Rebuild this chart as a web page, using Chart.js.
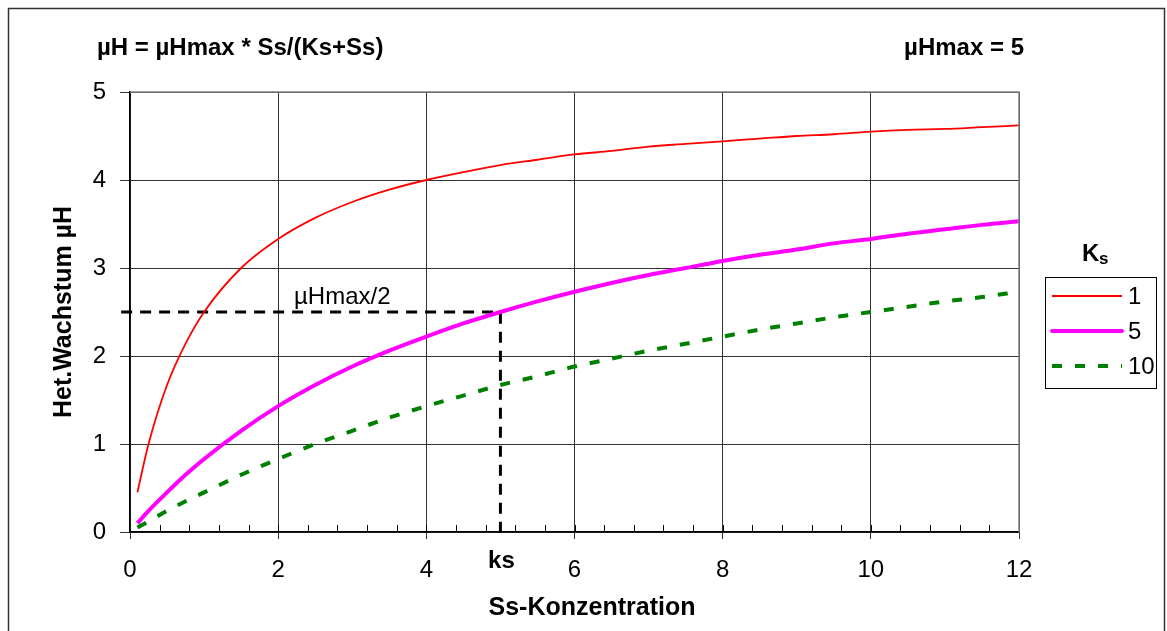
<!DOCTYPE html>
<html>
<head>
<meta charset="utf-8">
<script src="https://cdn.jsdelivr.net/npm/chart.js@4"></script>
<style>
  body { margin: 0; background: #fff; }
  #wrap { position: relative; width: 1167px; height: 631px; }
</style>
</head>
<body>
<div id="wrap"><canvas id="myChart" width="1167" height="631"></canvas></div>
<script>
// Ss values and growth rates
const ss = [0.1, 0.25, 0.5, 0.75, 1, 1.5, 2, 2.5, 3, 3.5, 4, 4.5, 5, 5.5, 6, 6.5, 7, 7.5, 8, 8.5, 9, 9.5, 10, 10.5, 11, 11.5, 12];
const mu_k1 = [0.45, 1.0, 1.67, 2.14, 2.5, 3.0, 3.33, 3.57, 3.75, 3.89, 4.0, 4.09, 4.17, 4.23, 4.29, 4.33, 4.38, 4.41, 4.44, 4.47, 4.5, 4.52, 4.55, 4.57, 4.58, 4.6, 4.62];
const mu_k5 = [0.1, 0.24, 0.45, 0.65, 0.83, 1.15, 1.43, 1.67, 1.88, 2.06, 2.22, 2.37, 2.5, 2.62, 2.73, 2.83, 2.92, 3.0, 3.08, 3.15, 3.21, 3.28, 3.33, 3.39, 3.44, 3.49, 3.53];
const mu_k10 = [0.05, 0.12, 0.24, 0.35, 0.45, 0.65, 0.83, 1.0, 1.15, 1.3, 1.43, 1.55, 1.67, 1.77, 1.88, 1.97, 2.06, 2.14, 2.22, 2.3, 2.37, 2.44, 2.5, 2.56, 2.62, 2.67, 2.73];
const seriesNames = ['1', '5', '10'];
const halfX = [-0.12, 5, 5];
const halfY = [2.5, 2.5, -0.05];

function pts(xs, ys) {
  return xs.map((x, i) => ({ x: x, y: ys[i] }));
}

const FONT = "'Liberation Sans', Arial, sans-serif";

// extra drawing: frame, minor ticks, labels, legend
const extras = {
  id: 'extras',
  afterDraw(chart) {
    const ctx = chart.ctx;
    const a = chart.chartArea;
    const xs = chart.scales.x;
    ctx.save();

    // outer frame
    ctx.strokeStyle = '#333';
    ctx.lineWidth = 1.5;
    ctx.strokeRect(8.5, 8.5, 1156, 640);

    // grey top/right border of plot area
    ctx.strokeStyle = '#808080';
    ctx.lineWidth = 1.5;
    ctx.beginPath();
    ctx.moveTo(a.left, a.top);
    ctx.lineTo(a.right, a.top);
    ctx.lineTo(a.right, a.bottom);
    ctx.stroke();

    // minor ticks on x axis
    ctx.strokeStyle = '#000';
    ctx.lineWidth = 1;
    for (let v = 0.4; v < 12; v += 0.4) {
      const px = Math.round(xs.getPixelForValue(v)) + 0.5;
      ctx.beginPath();
      ctx.moveTo(px, a.bottom);
      ctx.lineTo(px, a.bottom - 7);
      ctx.stroke();
    }

    // texts
    ctx.fillStyle = '#000';
    ctx.textBaseline = 'middle';
    ctx.font = 'bold 24px ' + FONT;
    ctx.textAlign = 'left';
    ctx.fillText('\u00b5H = \u00b5Hmax * Ss/(Ks+Ss)', 97, 48);
    ctx.textAlign = 'right';
    ctx.fillText('\u00b5Hmax = 5', 1024, 48);

    ctx.font = '24px ' + FONT;
    ctx.textAlign = 'left';
    ctx.fillText('\u00b5Hmax/2', 294, 297);

    ctx.font = 'bold 24px ' + FONT;
    ctx.textAlign = 'center';
    ctx.fillText('ks', xs.getPixelForValue(5) + 1, 561);

    // x axis title (sits a bit right of the plot centre in the original)
    ctx.font = 'bold 25px ' + FONT;
    ctx.fillText('Ss-Konzentration', 592, 608);

    // legend
    ctx.font = 'bold 24px ' + FONT;
    ctx.textAlign = 'left';
    ctx.fillText('K', 1082, 254);
    ctx.font = 'bold 17px ' + FONT;
    ctx.fillText('s', 1099, 259);

    ctx.strokeStyle = '#000';
    ctx.lineWidth = 1;
    ctx.strokeRect(1045.5, 277.5, 111, 111);

    const rows = [296, 331, 366];
    chart.data.datasets.slice(0, 3).forEach((ds, i) => {
      ctx.strokeStyle = ds.borderColor;
      ctx.lineWidth = ds.borderWidth;
      ctx.setLineDash(ds.borderDash || []);
      ctx.lineCap = i === 1 ? 'round' : 'butt';
      ctx.beginPath();
      ctx.moveTo(1052, rows[i]);
      ctx.lineTo(1122, rows[i]);
      ctx.stroke();
      ctx.setLineDash([]);
      ctx.fillStyle = '#000';
      ctx.font = '24px ' + FONT;
      ctx.fillText(ds.label, 1128, rows[i] + 1);
    });

    ctx.restore();
  }
};

const ctx = document.getElementById('myChart').getContext('2d');
const myChart = new Chart(ctx, {
  type: 'line',
  data: {
    datasets: [
      {
        label: seriesNames[0],
        data: pts(ss, mu_k1),
        borderColor: '#ff0000',
        borderWidth: 1.8,
        pointRadius: 0,
        cubicInterpolationMode: 'monotone'
      },
      {
        label: seriesNames[1],
        data: pts(ss, mu_k5),
        borderColor: '#ff00ff',
        borderWidth: 4,
        pointRadius: 0,
        cubicInterpolationMode: 'monotone'
      },
      {
        label: seriesNames[2],
        data: pts(ss, mu_k10),
        borderColor: '#008000',
        borderWidth: 4,
        borderDash: [10, 13],
        pointRadius: 0,
        cubicInterpolationMode: 'monotone'
      },
      {
        label: 'half',
        data: pts(halfX, halfY),
        borderColor: '#000000',
        borderWidth: 3,
        borderDash: [11, 8],
        pointRadius: 0,
        tension: 0,
        clip: false
      }
    ]
  },
  options: {
    responsive: false,
    animation: false,
    events: [],
    layout: { padding: { left: 0, right: 148, top: 92, bottom: 0 } },
    plugins: {
      legend: { display: false },
      tooltip: { enabled: false }
    },
    scales: {
      x: {
        type: 'linear',
        min: 0,
        max: 12,
        afterFit(scale) { scale.height = 99; },
        ticks: {
          stepSize: 2,
          color: '#000',
          padding: 17,
          font: { family: FONT, size: 24 }
        },
        grid: {
          color: '#333',
          lineWidth: 1,
          tickLength: 7,
          drawTicks: true
        },
        border: { color: '#000', width: 1.5 },
        title: { display: false }
      },
      y: {
        type: 'linear',
        min: 0,
        max: 5,
        afterFit(scale) { scale.width = 130; },
        ticks: {
          stepSize: 1,
          color: '#000',
          padding: 14,
          font: { family: FONT, size: 24 }
        },
        grid: {
          color: '#333',
          lineWidth: 1,
          tickLength: 10
        },
        border: { color: '#000', width: 1.5 },
        title: {
          display: true,
          text: 'Het.Wachstum \u00b5H',
          color: '#000',
          padding: { top: 49, bottom: 0 },
          font: { family: FONT, size: 25, weight: 'bold' }
        }
      }
    }
  },
  plugins: [extras]
});
</script>
</body>
</html>
